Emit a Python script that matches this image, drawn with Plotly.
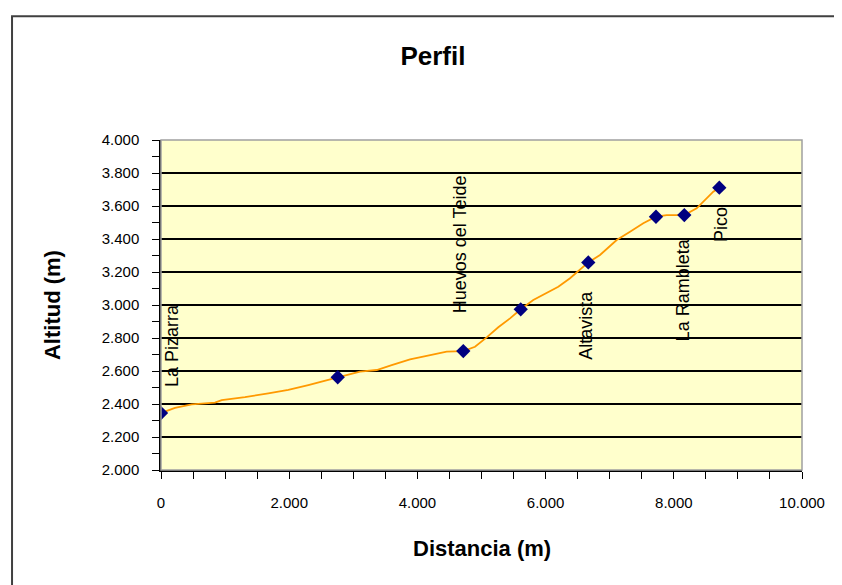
import plotly.graph_objects as go

# ---- data ----
distancia = [0, 218, 479, 842, 947, 1310, 1674, 1986, 2298, 2610, 2757,
             3105, 3365, 3599, 3885, 4145, 4353, 4457, 4716,
             4899, 5081, 5262, 5445, 5612, 5808, 6017, 6198, 6381, 6537, 6666,
             6849, 7109, 7317, 7524, 7722, 7889, 8045, 8164,
             8357, 8487, 8616, 8710]
altitud = [2345, 2376, 2398, 2408, 2424, 2441, 2465, 2485, 2515, 2550, 2562,
           2596, 2606, 2636, 2671, 2691, 2707, 2717, 2721,
           2747, 2804, 2865, 2919, 2974, 3030, 3071, 3111, 3162, 3212, 3258,
           3303, 3394, 3444, 3495, 3535, 3545, 3545, 3545,
           3586, 3636, 3687, 3711]

punto_dist = [0, 2757, 4716, 5612, 6666, 7722, 8164, 8710]
punto_alt = [2345, 2562, 2721, 2974, 3258, 3535, 3545, 3711]
punto_nombre = ["La Pizarra", "", "Huevos del Teide", "", "Altavista", "", "La Rambleta", "Pico"]

x_ticks = [0, 2000, 4000, 6000, 8000, 10000]
y_ticks = [2000, 2200, 2400, 2600, 2800, 3000, 3200, 3400, 3600, 3800, 4000]

FONT = "Arial, Liberation Sans, sans-serif"

fig = go.Figure()
fig.add_trace(go.Scatter(x=distancia, y=altitud, mode="lines",
                         line=dict(color="#FF9900", width=1.8), hoverinfo="skip",
                         showlegend=False))
fig.add_trace(go.Scatter(x=punto_dist, y=punto_alt, mode="markers",
                         marker=dict(symbol="diamond", size=11, color="#000080"),
                         showlegend=False))

# label offsets (pixels) relative to their markers
label_shift = {
    "La Pizarra": (11, 67),
    "Huevos del Teide": (-3, 107),
    "Altavista": (-2, -63),
    "La Rambleta": (-1, -75),
    "Pico": (1, -37),
}
for xd, yd, name in zip(punto_dist, punto_alt, punto_nombre):
    if not name:
        continue
    dx, dy = label_shift[name]
    fig.add_annotation(x=xd, y=yd, text=name, showarrow=False, textangle=-90,
                       xshift=dx, yshift=dy, xanchor="center", yanchor="middle",
                       font=dict(family=FONT, size=18, color="black"))

# axis titles
fig.add_annotation(xref="paper", yref="paper", x=0.5008, y=-0.2364,
                   xanchor="center", yanchor="middle",
                   text="<b>Distancia (m)</b>", showarrow=False,
                   font=dict(family=FONT, size=22, color="black"))
fig.add_annotation(xref="paper", yref="paper", x=-0.170, y=0.5,
                   xanchor="center", yanchor="middle",
                   text="<b>Altitud (m)</b>", showarrow=False, textangle=-90,
                   font=dict(family=FONT, size=22, color="black"))

# outer chart frame
fig.add_shape(type="rect", xref="paper", yref="paper",
              x0=-0.2324, y0=-0.7, x1=1.2, y1=1.375,
              line=dict(color="#404040", width=2), layer="below")
# plot-area border (gray)
fig.add_shape(type="rect", xref="paper", yref="paper",
              x0=0, y0=0, x1=1, y1=1,
              line=dict(color="#A0A0A0", width=1.5), layer="above")

fig.update_layout(
    width=842, height=585,
    margin=dict(l=153, r=48, t=132, b=123),
    paper_bgcolor="white",
    plot_bgcolor="#FFFFCC",
    separators=",.",
    font=dict(family=FONT, size=14, color="black"),
    title=dict(text="<b>Perfil</b>", x=0.4243, xref="paper", xanchor="center",
               y=1 - 48 / 585, yref="container", yanchor="middle",
               font=dict(family=FONT, size=26, color="black")),
    showlegend=False,
)
fig.update_xaxes(range=[0, 10000], tickvals=x_ticks, tickformat=",d",
                 ticks="outside", ticklen=7, tickcolor="black", tickwidth=1,
                 showline=True, linecolor="black", linewidth=1.5,
                 showgrid=False, zeroline=False, ticklabelstandoff=11,
                 tickfont=dict(family=FONT, size=15),
                 minor=dict(dtick=500, tick0=0, ticks="outside", ticklen=7,
                            tickcolor="black", showgrid=False))
fig.update_yaxes(range=[2000, 4000], tickvals=y_ticks, tickformat=",d",
                 ticks="outside", ticklen=7, tickcolor="black", tickwidth=1,
                 showline=True, linecolor="black", linewidth=1.5,
                 showgrid=True, gridcolor="black", gridwidth=1.5,
                 zeroline=False, ticklabelstandoff=10,
                 tickfont=dict(family=FONT, size=15),
                 minor=dict(dtick=100, tick0=2000, ticks="outside", ticklen=7,
                            tickcolor="black", showgrid=False))

fig.write_html("out.html")
